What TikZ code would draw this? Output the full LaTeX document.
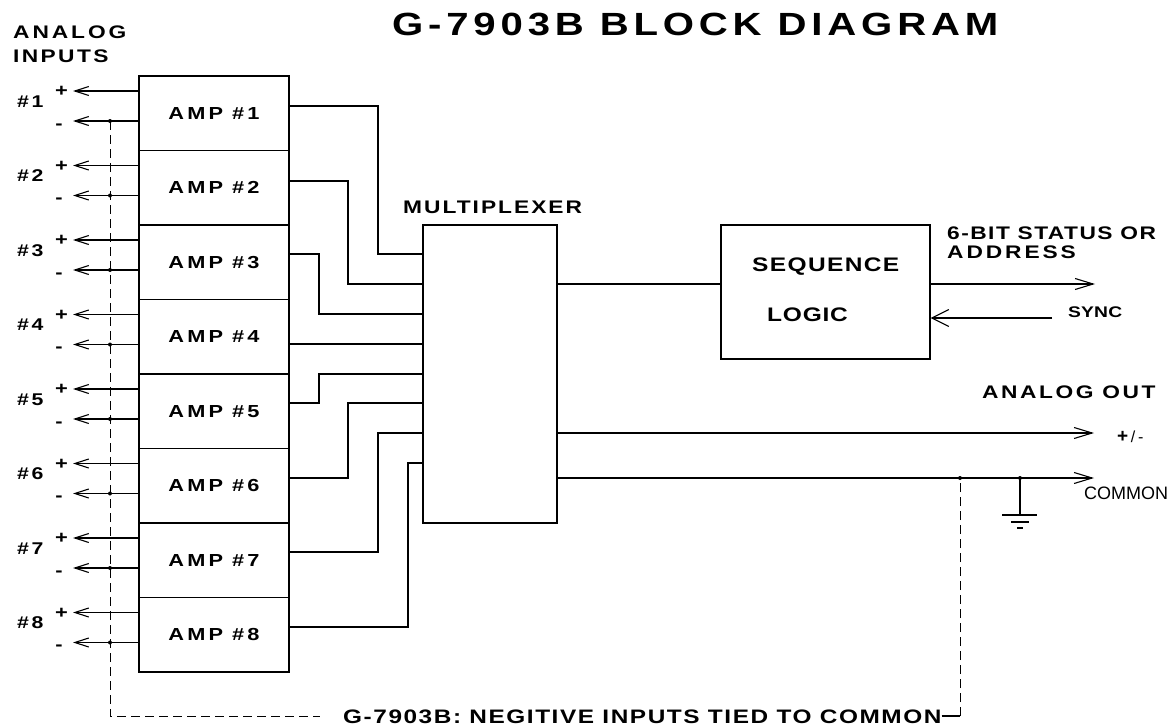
\documentclass[tikz,border=0pt]{standalone}
\usepackage{fontspec}
\setmainfont{Liberation Sans}
\newfontfamily\widefont[FakeStretch=1.25]{Liberation Sans}
\usetikzlibrary{arrows.meta}
\newcommand{\bsp}[2]{\fontsize{#1pt}{#1pt}\selectfont\widefont\bfseries\addfontfeature{LetterSpace=#2}}
\newcommand{\rsp}[1]{\fontsize{#1pt}{#1pt}\selectfont}
\tikzset{
  wire/.style={line width=1.1pt},
  box/.style={draw, line width=1.2pt, inner sep=0pt},
  lbl/.style={inner sep=0pt, anchor=base west},
  sgn/.style={inner sep=0pt, anchor=base},
  inarrow/.style={wire, -{Straight Barb[length=14pt,width=9pt]}},
  outarrow/.style={wire, -{Straight Barb[length=18pt,width=11pt]}},
  syncarrow/.style={wire, -{Straight Barb[length=17pt,width=17pt]}},
  dashline/.style={line width=1pt, dash pattern=on 9pt off 5pt},
  junction/.style={fill, radius=2pt},
}
\begin{document}
\begin{tikzpicture}[x=1pt,y=-1pt]
\fill[white] (0,0) rectangle (1175,725);
\useasboundingbox (0,0) rectangle (1175,725);

% titles
\node[lbl, font=\bsp{32.1}{15}] (title) at (392,36) {G-7903B BLOCK DIAGRAM};
\node[lbl, font=\bsp{18.2}{16}] (ain1) at (13,39) {ANALOG};
\node[lbl, font=\bsp{18.2}{13}] (ain2) at (13,63) {INPUTS};

% multiplexer and sequence logic
\node[box, minimum width=134pt, minimum height=298pt] (mux) at (490,374) {};
\node[lbl, font=\bsp{18.2}{11}] (muxlbl) at (403,213) {MULTIPLEXER};
\node[box, minimum width=209pt, minimum height=134pt] (seq) at (825.5,292) {};
\node[lbl, font=\bsp{19.6}{7}] (seqlbl1) at (752,271) {SEQUENCE};
\node[lbl, font=\bsp{19.6}{4}] (seqlbl2) at (767,321) {LOGIC};

% amplifiers and inputs
\foreach \n in {1,...,8}{
  \pgfmathsetmacro{\T}{76+74.5*(\n-1)}
  \node[box, minimum width=150pt, minimum height=74.5pt, font=\bsp{17.4}{18}] (amp\n) at (214,{\T+37.25}) {AMP \#\n};
  \node[lbl, font=\bsp{17}{15}] (num\n) at (17,{\T+31}) {\#\n};
  \node[sgn, font=\bsp{17.5}{0}] (plus\n) at (61.5,{\T+20.6}) {+};
  \node[sgn, font=\bsp{17.5}{0}] (minus\n) at (59,{\T+53}) {-};
  \coordinate (ip\n) at (73,{\T+15});
  \coordinate (im\n) at (73,{\T+45});
  \coordinate (dm\n) at (110,{\T+45});
  \draw[inarrow] (amp\n.west |- ip\n) -- (ip\n);
  \draw[inarrow] (amp\n.west |- im\n) -- (im\n);
  \fill[junction] (dm\n) circle;
}

% amplifier outputs to multiplexer
\foreach \n/\o/\x/\i in {1/106/378/254, 2/181/348/284, 3/254/319/314, 5/403/319/374, 6/478/348/403, 7/552/378/433, 8/627/408/463}{
  \coordinate (ao\n) at (0,\o);
  \coordinate (mi\n) at (\x,\i);
  \draw[wire] (amp\n.east |- ao\n) -| (mi\n) -- (mux.west |- mi\n);
}
\coordinate (ao4) at (0,344);
\draw[wire] (amp4.east |- ao4) -- (mux.west |- ao4);

% multiplexer to sequence logic and outputs
\coordinate (ya) at (0,284);
\draw[wire] (mux.east |- ya) -- (seq.west |- ya);
\coordinate (bitout) at (1095,284);
\draw[outarrow] (seq.east |- ya) -- (bitout);
\coordinate (syncin) at (1052,318);
\draw[syncarrow] (syncin) -- (seq.east |- syncin);
\node[lbl, font=\bsp{18.2}{8}] (bitlbl1) at (947,239) {6-BIT STATUS OR};
\node[lbl, font=\bsp{18.2}{16}] (bitlbl2) at (947,258) {ADDRESS};
\node[lbl, font=\bsp{15.4}{1}] (synclbl) at (1068,317) {SYNC};

\node[lbl, font=\bsp{18.2}{14}] (aoutlbl) at (982,398) {ANALOG OUT};
\coordinate (aout) at (1094,433);
\draw[outarrow] (mux.east |- aout) -- (aout);
\node[lbl, font=\rsp{16}] (pmlbl) at (1117,442) {{\fontsize{19pt}{19pt}\selectfont\bfseries +}\,/\,-};
\coordinate (cout) at (1094,478);
\draw[outarrow] (mux.east |- cout) -- (cout);
\node[lbl, font=\rsp{18}] (comlbl) at (1084,499) {COMMON};

% junctions and ground
\coordinate (jd) at (960,478);
\coordinate (jg) at (1020,478);
\fill[junction] (jd) circle;
\fill[junction] (jg) circle;
\coordinate (gnd) at (1020,515);
\draw[wire] (jg) -- (gnd);
\draw[wire] (1002,515) -- (1037,515);
\draw[wire] (1011,522) -- (1029,522);
\draw[wire] (1017,528) -- (1023,528);

% tie of negative inputs to common
\coordinate (dbl) at (110,716);
\coordinate (dbe) at (320,716);
\draw[dashline] (dm1) -- (dbl) -- (dbe);
\node[lbl, font=\bsp{19.5}{8}] (note) at (343,723) {G-7903B: NEGITIVE INPUTS TIED TO COMMON};
\coordinate (bk) at (960,716);
\draw[wire] (note.east |- bk) -- (bk);
\draw[dashline] (bk) -- (jd);
\end{tikzpicture}
\end{document}
